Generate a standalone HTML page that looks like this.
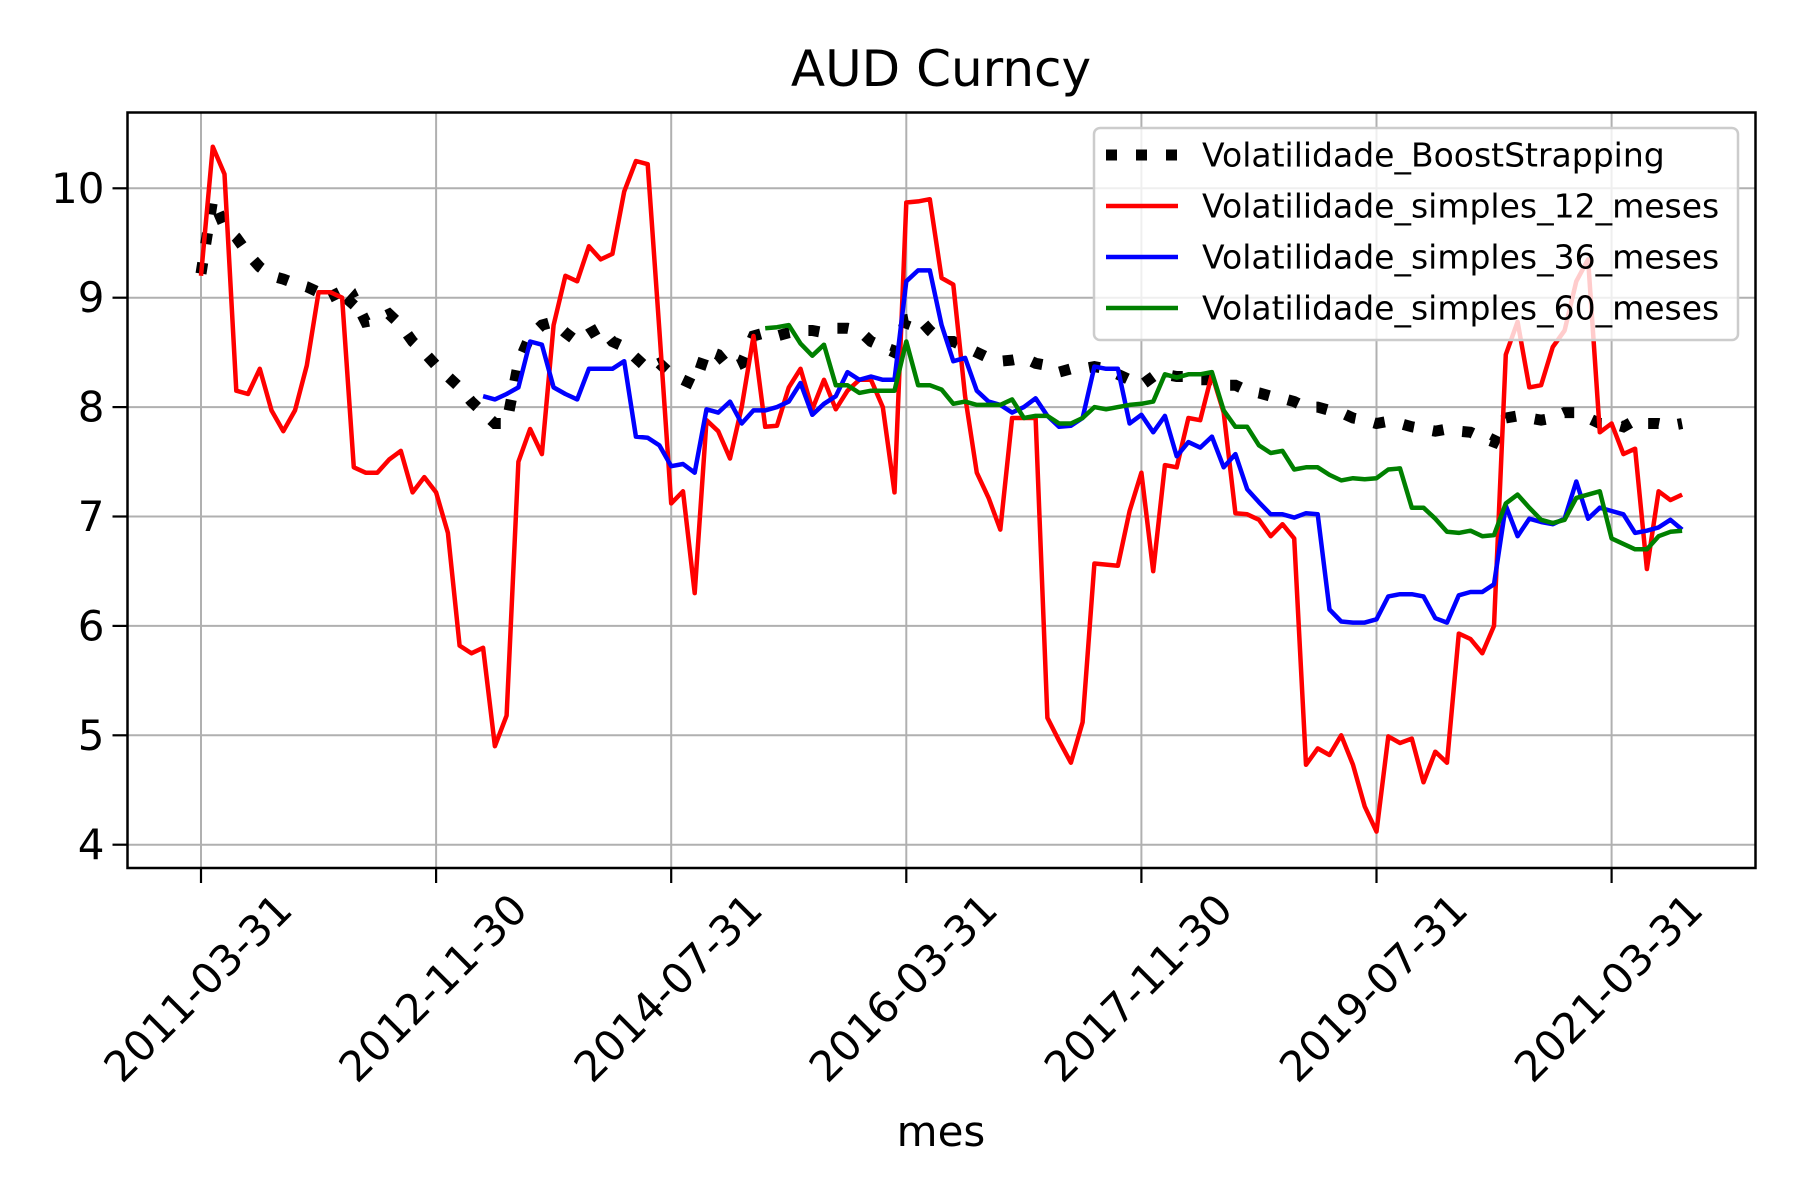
<!DOCTYPE html>
<html><head><meta charset="utf-8">
<style>
html,body{margin:0;padding:0;background:#fff;}
svg{display:block;font-family:"DejaVu Sans","Liberation Sans",sans-serif;}
</style></head>
<body>
<svg id="chart" width="1800" height="1200" viewBox="0 0 1800 1200" xmlns="http://www.w3.org/2000/svg">
<rect x="0" y="0" width="1800" height="1200" fill="#fff"/>
<text x="941" y="86" font-size="50" text-anchor="middle" fill="#000">AUD Curncy</text>
<g id="grid"></g>
<g id="series"></g>
<rect x="127.5" y="112.5" width="1628" height="755.5" fill="none" stroke="#000" stroke-width="2.5"/>
<g id="axes"></g>
<text x="941" y="1146" font-size="42" text-anchor="middle" fill="#000">mes</text>
<g id="legend"></g>
</svg>
<script>
const xTickLabels = ["2011-03-31","2012-11-30","2014-07-31","2016-03-31","2017-11-30","2019-07-31","2021-03-31"];
const xTickIndex = [0,20,40,60,80,100,120];
const yTicks = [4,5,6,7,8,9,10];
const seriesNames = ["Volatilidade_BoostStrapping","Volatilidade_simples_12_meses","Volatilidade_simples_36_meses","Volatilidade_simples_60_meses"];
const boot = [9.22,9.9,9.65,9.55,9.4,9.28,9.2,9.17,9.13,9.1,9.05,9.1,8.88,9.0,8.78,8.8,8.85,8.75,8.6,8.5,8.38,8.28,8.18,8.05,7.95,7.85,7.85,8.4,8.65,8.75,8.78,8.68,8.6,8.67,8.73,8.6,8.55,8.45,8.35,8.4,8.3,8.25,8.2,8.52,8.48,8.35,8.4,8.65,8.68,8.65,8.68,8.7,8.7,8.68,8.72,8.72,8.7,8.6,8.55,8.5,8.8,8.82,8.7,8.6,8.6,8.55,8.5,8.45,8.42,8.43,8.45,8.4,8.38,8.32,8.35,8.35,8.37,8.35,8.3,8.25,8.2,8.28,8.3,8.28,8.28,8.25,8.25,8.2,8.2,8.15,8.13,8.1,8.08,8.05,8.0,8.0,7.97,7.95,7.9,7.88,7.85,7.87,7.85,7.82,7.8,7.78,7.8,7.78,7.77,7.72,7.68,7.9,7.92,7.9,7.88,7.9,7.95,7.95,7.9,7.85,7.85,7.82,7.88,7.85,7.85,7.83,7.85];
const vol12 = [9.2,10.38,10.13,8.15,8.12,8.35,7.97,7.78,7.97,8.38,9.05,9.05,9.0,7.45,7.4,7.4,7.52,7.6,7.22,7.36,7.22,6.85,5.82,5.75,5.8,4.9,5.18,7.5,7.8,7.57,8.75,9.2,9.15,9.47,9.35,9.4,9.97,10.25,10.22,8.7,7.12,7.23,6.3,7.88,7.78,7.53,8.0,8.65,7.82,7.83,8.18,8.35,7.98,8.25,7.98,8.15,8.25,8.25,8.0,7.22,9.87,9.88,9.9,9.18,9.12,8.1,7.4,7.17,6.88,7.9,7.9,7.9,5.16,4.95,4.75,5.12,6.57,6.56,6.55,7.05,7.4,6.5,7.47,7.45,7.9,7.88,8.3,7.95,7.03,7.02,6.97,6.82,6.93,6.8,4.73,4.88,4.82,5.0,4.73,4.35,4.12,4.99,4.93,4.97,4.57,4.85,4.75,5.93,5.88,5.75,6.0,8.48,8.78,8.18,8.2,8.55,8.7,9.15,9.35,7.77,7.85,7.57,7.62,6.52,7.23,7.15,7.2];
const vol36Start = 24;
const vol36 = [8.1,8.07,8.12,8.18,8.6,8.57,8.18,8.12,8.07,8.35,8.35,8.35,8.42,7.73,7.72,7.65,7.46,7.48,7.4,7.98,7.95,8.05,7.85,7.97,7.97,8.0,8.05,8.22,7.93,8.03,8.1,8.32,8.25,8.28,8.25,8.25,9.15,9.25,9.25,8.75,8.42,8.45,8.15,8.05,8.02,7.95,8.0,8.08,7.92,7.82,7.83,7.9,8.37,8.35,8.35,7.85,7.93,7.77,7.92,7.55,7.68,7.63,7.73,7.45,7.57,7.25,7.13,7.02,7.02,6.99,7.03,7.02,6.15,6.04,6.03,6.03,6.06,6.27,6.29,6.29,6.27,6.07,6.03,6.28,6.31,6.31,6.38,7.1,6.82,6.98,6.95,6.93,6.98,7.32,6.98,7.08,7.05,7.02,6.85,6.87,6.9,6.97,6.88];
const vol60Start = 48;
const vol60 = [8.72,8.73,8.75,8.58,8.47,8.57,8.2,8.2,8.13,8.15,8.15,8.15,8.6,8.2,8.2,8.16,8.03,8.05,8.02,8.02,8.02,8.07,7.9,7.92,7.92,7.85,7.85,7.9,8.0,7.98,8.0,8.02,8.03,8.05,8.3,8.27,8.3,8.3,8.32,7.97,7.82,7.82,7.65,7.58,7.6,7.43,7.45,7.45,7.38,7.33,7.35,7.34,7.35,7.43,7.44,7.08,7.08,6.98,6.86,6.85,6.87,6.82,6.83,7.12,7.2,7.08,6.97,6.94,6.97,7.17,7.2,7.23,6.8,6.75,6.7,6.7,6.82,6.86,6.87];

const NS = "http://www.w3.org/2000/svg";
const L = 127.5, R = 1755.5, T = 112.5, B = 868;
function xPos(i){ return 201 + (i/20)*235.1; }
function yPos(v){ return 188.3 + (10 - v)*109.4; }
function mk(tag, attrs, parent){ const e = document.createElementNS(NS, tag); for (const k in attrs) e.setAttribute(k, attrs[k]); parent.appendChild(e); return e; }

const grid = document.getElementById('grid');
const axes = document.getElementById('axes');
xTickIndex.forEach((ti, k) => {
  const x = xPos(ti);
  const g = mk('line', {x1:x, x2:x, y1:T, y2:B, stroke:'#b0b0b0', 'stroke-width':2}, grid);
  
  
  const t = mk('line', {x1:x, x2:x, y1:B, y2:B+15, stroke:'#000', 'stroke-width':2.2}, axes);
  
  
  const cx = x - 3, cy = 988;
  const lbl = mk('text', {x:cx, y:cy, 'font-size':42, 'text-anchor':'middle', 'dominant-baseline':'central', transform:`rotate(-45 ${cx} ${cy})`, fill:'#000'}, axes);
  lbl.textContent = xTickLabels[k];
  
  
});
yTicks.forEach(v => {
  const y = yPos(v);
  const g = mk('line', {x1:L, x2:R, y1:y, y2:y, stroke:'#b0b0b0', 'stroke-width':2}, grid);
  
  
  const t = mk('line', {x1:L-15, x2:L, y1:y, y2:y, stroke:'#000', 'stroke-width':2.2}, axes);
  
  
  const lbl = mk('text', {x:L-23, y:y, 'font-size':42, 'text-anchor':'end', 'dominant-baseline':'central', fill:'#000'}, axes);
  lbl.textContent = String(v);
  
  
});

const series = document.getElementById('series');
function pts(arr, start){ return arr.map((v,i)=> xPos(start+i).toFixed(1)+','+yPos(v).toFixed(1)).join(' '); }
const s1 = mk('polyline', {points:pts(boot,0), fill:'none', stroke:'#000', 'stroke-width':11, 'stroke-dasharray':'11 19'}, series);


const s2 = mk('polyline', {points:pts(vol12,0), fill:'none', stroke:'#ff0000', 'stroke-width':4.5, 'stroke-linejoin':'round'}, series);


const s3 = mk('polyline', {points:pts(vol36,vol36Start), fill:'none', stroke:'#0000ff', 'stroke-width':4.5, 'stroke-linejoin':'round'}, series);


const s4 = mk('polyline', {points:pts(vol60,vol60Start), fill:'none', stroke:'#008000', 'stroke-width':4.5, 'stroke-linejoin':'round'}, series);



const legend = document.getElementById('legend');
const box = mk('rect', {x:1094, y:128, width:644, height:212, rx:6, fill:'#fff', 'fill-opacity':0.8, stroke:'#cccccc', 'stroke-width':2.5}, legend);


const rowsY = [155,206,257,308];
const colors = ['#000','#ff0000','#0000ff','#008000'];
seriesNames.forEach((n, k) => {
  const y = rowsY[k];
  const ln = mk('line', {x1:1106, x2:1178, y1:y, y2:y, stroke:colors[k], 'stroke-width': k===0?11:4.5, 'stroke-dasharray': k===0?'11 19':'none'}, legend);
  
  
  const tx = mk('text', {x:1202, y:y, 'font-size':33, 'dominant-baseline':'central', fill:'#000'}, legend);
  tx.textContent = n;
  
  
});
</script>
</body></html>
